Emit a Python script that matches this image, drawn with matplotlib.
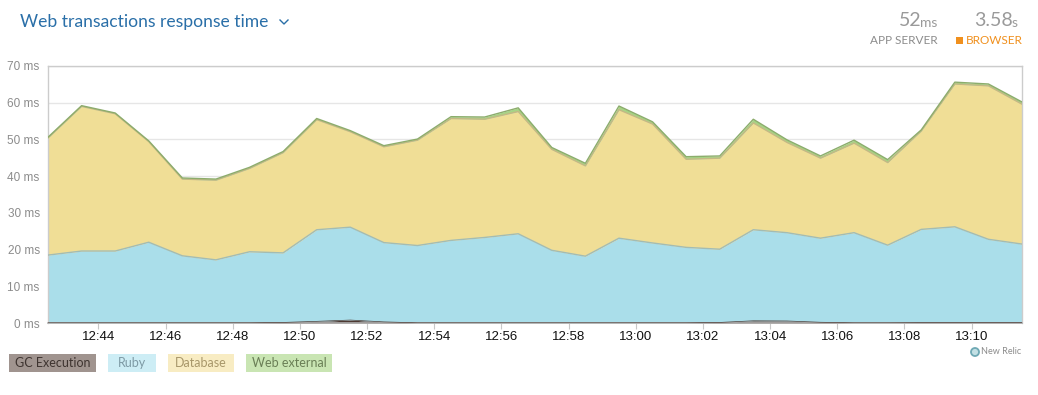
import numpy as np
import pandas as pd
import matplotlib
matplotlib.use('Agg')
import matplotlib.pyplot as plt
import matplotlib.dates as mdates
from matplotlib.patches import Rectangle, Ellipse
from matplotlib.lines import Line2D

#--------------------------------------------------------------------------------------------
# Data (ms per minute)
times = pd.date_range('2020-01-01 12:42:30', periods=30, freq='min')

gc_execution = [0.05, 0.05, 0.05, 0.05, 0.05, 0.05, 0.05, 0.15, 0.45, 0.8, 0.3, 0.05, 0.05, 0.05, 0.05,
                0.05, 0.05, 0.05, 0.05, 0.05, 0.15, 0.6, 0.55, 0.2, 0.05, 0.05, 0.1, 0.1, 0.1, 0.1]
ruby = [18.45, 19.55, 19.55, 21.95, 18.25, 17.15, 19.35, 18.95, 24.95, 25.3, 21.6, 21.05, 22.45, 23.25, 24.25,
        19.75, 18.15, 23.05, 21.75, 20.55, 19.95, 24.8, 24.05, 22.9, 24.55, 21.15, 25.4, 26.1, 22.7, 21.4]
database = [31.9, 39.4, 37.4, 27.4, 20.9, 21.7, 22.7, 27.3, 30.0, 26.0, 26.1, 28.7, 33.2, 32.2, 33.3,
            27.5, 24.6, 35.0, 32.4, 24.0, 24.8, 29.1, 24.6, 21.8, 24.4, 22.5, 26.8, 38.9, 41.8, 38.1]
web_external = [0.2, 0.2, 0.2, 0.2, 0.3, 0.3, 0.3, 0.3, 0.3, 0.3, 0.3, 0.3, 0.5, 0.6, 1.0,
                0.5, 0.7, 1.0, 0.6, 0.7, 0.6, 1.0, 0.7, 0.6, 0.8, 0.8, 0.3, 0.5, 0.5, 0.6]

series_names = ['GC Execution', 'Ruby', 'Database', 'Web external']
y_ticks = [0, 10, 20, 30, 40, 50, 60, 70]

app_server = '52'
browser = '3.58'

#--------------------------------------------------------------------------------------------
# Colors
fill_colors = ['#4e3a33', '#aadeea', '#f0de96', '#a6d585']
edge_colors = ['#4e3a33', '#a3bcb3', '#c4b884', '#8cac6c']
edge_widths = [0.5, 1.0, 1.0, 1.0]
legend_bg = ['#a0948f', '#cdedf5', '#f8ecc3', '#c9e5b3']
legend_fg = ['#3e3430', '#7e9aa5', '#a8976a', '#6a7f56']

W, H = 1038, 395
fig = plt.figure(figsize=(W / 100, H / 100), dpi=100)

# Plot area in pixel units
x0, x1, y0, y1 = 48, 1022, 66, 323
ax = fig.add_axes([x0 / W, 1 - y1 / H, (x1 - x0) / W, (y1 - y0) / H])

# Stacked areas
layers = [gc_execution, ruby, database, web_external]
base = np.zeros(len(times))
for vals, fc, ec, lw in zip(layers, fill_colors, edge_colors, edge_widths):
    top = base + np.array(vals)
    ax.fill_between(times, base, top, color=fc, linewidth=0, zorder=2)
    ax.plot(times, top, color=ec, linewidth=lw, zorder=3)
    base = top

ax.set_xlim(times[0], times[-1])
ax.set_ylim(0, 70)
ax.set_yticks(y_ticks)
ax.set_yticklabels([f'{v} ms' for v in y_ticks])
ax.grid(axis='y', color='#e6e6e6', linewidth=1.0, zorder=0)

ax.xaxis.set_major_locator(mdates.MinuteLocator(byminute=range(0, 60, 2)))
ax.xaxis.set_major_formatter(mdates.DateFormatter('%H:%M'))

ax.tick_params(axis='y', length=0, labelsize=8.5, labelcolor='#8c8c8c', pad=6)
ax.tick_params(axis='x', length=4, color='#c8c8c8', labelsize=9.5, labelcolor='#111111', pad=2)
for lbl in ax.get_yticklabels() + ax.get_xticklabels():
    lbl.set_family('Liberation Sans')

for s in ['top', 'right', 'left']:
    ax.spines[s].set_color('#cccccc')
    ax.spines[s].set_linewidth(1.0)
ax.spines['bottom'].set_color('#b0b0b0')
ax.spines['bottom'].set_linewidth(1.2)
ax.set_axisbelow(True)

#--------------------------------------------------------------------------------------------
# Title with dropdown chevron
fig.text(20 / W, 1 - 22 / H, 'Web transactions response time', fontsize=12.6, color='#2a6fa8',
         family='Lato', va='center', ha='left')
fig.add_artist(Line2D([280 / W, 284 / W, 288 / W], [1 - 20 / H, 1 - 24 / H, 1 - 20 / H],
                      color='#2a6fa8', linewidth=1.0))

# Top right summary
fig.text(922 / W, 1 - 21 / H, app_server, fontsize=14, color='#9a9a9a', ha='right', va='center',
         family='Lato')
fig.text(920 / W, 1 - 23 / H, 'ms', fontsize=10, color='#9a9a9a', ha='left', va='center',
         family='Lato')
fig.text(938 / W, 1 - 40 / H, 'APP SERVER', fontsize=8.5, color='#8c8c8c', ha='right', va='center',
         family='Lato')
fig.text(1013 / W, 1 - 21 / H, browser, fontsize=14, color='#9a9a9a', ha='right', va='center',
         family='Lato')
fig.text(1012 / W, 1 - 23 / H, 's', fontsize=10, color='#9a9a9a', ha='left', va='center',
         family='Lato')
fig.text(1023 / W, 1 - 40 / H, 'BROWSER', fontsize=8.5, color='#f0901e', ha='right', va='center',
         family='Lato')
fig.add_artist(Rectangle((956 / W, 1 - 44 / H), 7 / W, 7 / H, color='#f0901e', linewidth=0))

#--------------------------------------------------------------------------------------------
# Legend boxes
box_x = [9, 108, 168, 246]
box_w = [87, 48, 66, 86]
for name, bx, bw, bg, fg in zip(series_names, box_x, box_w, legend_bg, legend_fg):
    fig.add_artist(Rectangle((bx / W, 1 - 372 / H), bw / W, 18 / H, color=bg, linewidth=0))
    fig.text((bx + bw / 2) / W, 1 - 363 / H, name, fontsize=9, color=fg, ha='center',
             va='center', family='Lato')

# New Relic mark
fig.add_artist(Ellipse((975 / W, 1 - 352 / H), 8 / W, 8 / H, facecolor='#c3e0e4', edgecolor='#6fa9b4',
                       linewidth=1.3))
fig.text(981 / W, 1 - 352 / H, 'New Relic', fontsize=6.5, color='#8c8c8c', ha='left', va='center',
         family='Lato')

# Save the image
plt.savefig('out.png', dpi=100)
